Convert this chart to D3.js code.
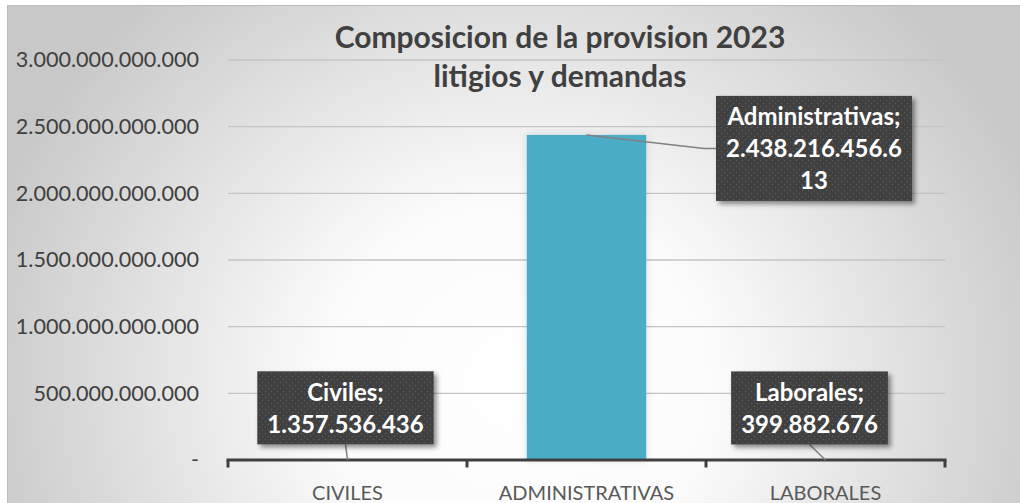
<!DOCTYPE html>
<html>
<head>
<meta charset="utf-8">
<script src="https://cdn.jsdelivr.net/npm/d3@7"></script>
<style>
  html, body { margin: 0; padding: 0; background: #fff; }
  svg { display: block; font-family: Lato, "Open Sans", sans-serif; }
</style>
</head>
<body>
<div id="visualization"></div>
<script>
const categories = ['CIVILES', 'ADMINISTRATIVAS', 'LABORALES'];
const labelNames = ['Civiles', 'Administrativas', 'Laborales'];
const values = [1357536436, 2438216456613, 399882676];
const yTicks = [0, 500e9, 1000e9, 1500e9, 2000e9, 2500e9, 3000e9];
const titleLines = ['Composicion de la provision 2023', 'litigios y demandas'];

const width = 1020;
const height = 503;
const plot = { left: 228, right: 945, top: 60, bottom: 460 };

// offset of each label box (centre) from its data point, as placed in the original
const labelOffsets = [[-2, -52], [227.5, 13.5], [-16, -52]];

const locale = d3.formatLocale({ decimal: ',', thousands: '.', grouping: [3], currency: ['$', ''] });
const fmt = locale.format(',.0f');

const svg = d3.select('#visualization')
  .append('svg')
  .attr('width', width)
  .attr('height', height);

const defs = svg.append('defs');

const grad = defs.append('radialGradient')
  .attr('id', 'bg')
  .attr('gradientUnits', 'userSpaceOnUse')
  .attr('cx', 0).attr('cy', 0).attr('r', 1)
  .attr('gradientTransform', 'translate(520,380) scale(560,520)');
grad.append('stop').attr('offset', 0).attr('stop-color', '#ffffff');
grad.append('stop').attr('offset', 0.35).attr('stop-color', '#fbfbfb');
grad.append('stop').attr('offset', 1).attr('stop-color', '#c8c8c8');

const pat = defs.append('pattern')
  .attr('id', 'dots')
  .attr('patternUnits', 'userSpaceOnUse')
  .attr('width', 6).attr('height', 6);
pat.append('rect').attr('width', 6).attr('height', 6).attr('fill', '#3f3f3f');
pat.append('circle').attr('cx', 1.5).attr('cy', 1.5).attr('r', 0.7).attr('fill', '#5e5e5e');
pat.append('circle').attr('cx', 4.5).attr('cy', 4.5).attr('r', 0.7).attr('fill', '#5e5e5e');

defs.append('filter').attr('id', 'shadow')
  .attr('x', '-20%').attr('y', '-20%').attr('width', '140%').attr('height', '150%')
  .append('feDropShadow')
  .attr('dx', 3).attr('dy', 3).attr('stdDeviation', 2.5)
  .attr('flood-color', '#000').attr('flood-opacity', 0.45);

defs.append('filter').attr('id', 'glow')
  .attr('x', '-20%').attr('y', '-20%').attr('width', '140%').attr('height', '140%')
  .append('feDropShadow')
  .attr('dx', 0).attr('dy', 0).attr('stdDeviation', 4)
  .attr('flood-color', '#000').attr('flood-opacity', 0.12);

// chart area
svg.append('rect')
  .attr('x', 7.5).attr('y', 5.5)
  .attr('width', width).attr('height', height)
  .attr('fill', 'url(#bg)')
  .attr('stroke', '#bcbcbc');

const xScale = d3.scaleBand()
  .domain(categories)
  .range([plot.left, plot.right])
  .padding(0);

const yScale = d3.scaleLinear()
  .domain([0, 3000e9])
  .range([plot.bottom, plot.top]);

// gridlines
svg.append('g')
  .selectAll('line')
  .data(yTicks.filter((d) => d > 0))
  .enter()
  .append('line')
  .attr('x1', plot.left)
  .attr('x2', plot.right)
  .attr('y1', (d) => yScale(d))
  .attr('y2', (d) => yScale(d))
  .attr('stroke', '#c4c4c4')
  .attr('stroke-width', 1.3);

// y axis labels
const yAxis = svg.append('g')
  .attr('transform', 'translate(199,0)')
  .call(d3.axisLeft(yScale).tickValues(yTicks).tickSize(0).tickPadding(0)
    .tickFormat((d) => (d === 0 ? '-' : fmt(d))));
yAxis.select('.domain').remove();
yAxis.selectAll('text')
  .attr('fill', '#404040')
  .style('font-size', '21.6px')
  .style('font-family', 'Lato, sans-serif');

// bars
svg.append('g')
  .selectAll('rect')
  .data(values)
  .enter()
  .append('rect')
  .attr('x', (d, i) => xScale(categories[i]) + xScale.bandwidth() / 4)
  .attr('width', xScale.bandwidth() / 2)
  .attr('y', (d) => yScale(d))
  .attr('height', (d) => yScale(0) - yScale(d))
  .attr('fill', '#4bacc6')
  .attr('filter', 'url(#glow)');

// x axis
const xAxis = svg.append('g')
  .attr('transform', `translate(0,${plot.bottom})`)
  .call(d3.axisBottom(xScale).tickSize(0).tickPadding(26));
xAxis.select('.domain').remove();
xAxis.selectAll('text')
  .attr('fill', '#595959')
  .style('font-size', '20px')
  .style('font-family', 'Lato, sans-serif');
xAxis.append('line')
  .attr('x1', plot.left - 1.5).attr('x2', plot.right + 1.5)
  .attr('stroke', '#404040').attr('stroke-width', 3);
xAxis.selectAll('.edge')
  .data(d3.range(categories.length + 1))
  .enter()
  .append('line')
  .attr('class', 'edge')
  .attr('x1', (i) => plot.left + i * xScale.bandwidth())
  .attr('x2', (i) => plot.left + i * xScale.bandwidth())
  .attr('y1', 0).attr('y2', 7.5)
  .attr('stroke', '#404040').attr('stroke-width', 3);

// data labels
const lineH = 32;
const labels = values.map((v, i) => {
  const s = fmt(v);
  const chunks = [];
  for (let k = 0; k < s.length; k += 15) chunks.push(s.slice(k, k + 15));
  const px = xScale(categories[i]) + xScale.bandwidth() / 2;
  const py = yScale(v);
  return { lines: [`${labelNames[i]};`, ...chunks], px, py, cx: px + labelOffsets[i][0], cy: py + labelOffsets[i][1] };
});

const lg = svg.append('g');
labels.forEach((l) => {
  const g = lg.append('g');
  const h = 29.5 + (l.lines.length - 1) * lineH + 11.5;
  const t = g.append('text')
    .attr('text-anchor', 'middle')
    .attr('fill', '#fff')
    .style('font-weight', 700)
    .style('font-size', '24px');
  l.lines.forEach((line, j) => {
    t.append('tspan').attr('x', l.cx).attr('y', l.cy - h / 2 + 29.5 + j * lineH).text(line);
  });
  const w = t.node().getBBox().width + 20;
  const box = { x: l.cx - w / 2, y: l.cy - h / 2, w, h };

  // leader line
  let pts;
  if (box.x > l.px) {
    pts = [[l.px, l.py], [box.x - 12, l.cy], [box.x, l.cy]];
  } else {
    pts = [[l.px, l.py], [l.cx, box.y + h]];
  }
  lg.insert('path', ':first-child')
    .attr('d', d3.line()(pts))
    .attr('fill', 'none')
    .attr('stroke', '#808080')
    .attr('stroke-width', 1.5);

  g.insert('rect', 'text')
    .attr('x', box.x).attr('y', box.y)
    .attr('width', box.w).attr('height', box.h)
    .attr('fill', 'url(#dots)')
    .attr('filter', 'url(#shadow)');
});

// title
const title = svg.append('text')
  .attr('text-anchor', 'middle')
  .attr('fill', '#404040')
  .style('font-weight', 700)
  .style('font-size', '30px');
titleLines.forEach((line, j) => {
  title.append('tspan').attr('x', 560).attr('y', 48 + j * 38.5).text(line);
});
</script>
</body>
</html>
